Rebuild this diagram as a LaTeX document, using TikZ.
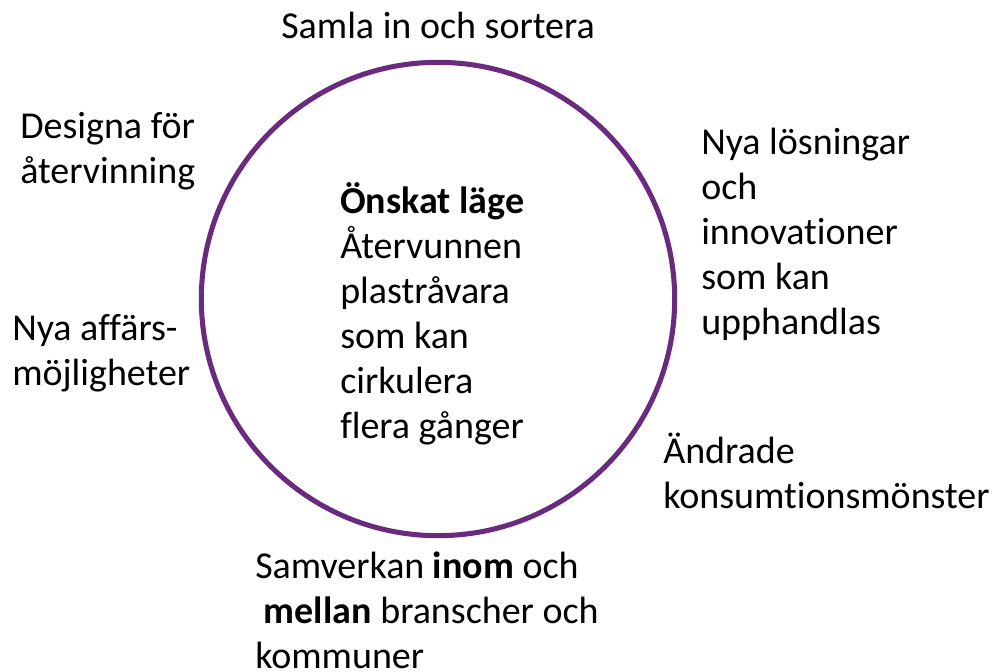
\documentclass[tikz,border=0pt]{standalone}
\usepackage{fontspec}
\setmainfont{Carlito}[Ligatures=NoCommon]
\usepackage{xcolor}
\usepackage{tikz}
\usetikzlibrary{positioning}
\definecolor{RingPurple}{HTML}{6A2A7E}
\definecolor{TextDark}{HTML}{000000}

\begin{document}
\begin{tikzpicture}[x=0.75pt,y=-0.75pt,
          every node/.style={font=\fontsize{28.5}{33.75}\selectfont, text=TextDark,
            inner sep=0pt, align=left, anchor=base west},
          ring/.style={circle, draw=RingPurple, line width=3.8pt,
            minimum size=355pt, anchor=center}]
        \useasboundingbox (0,0) rectangle (994,671);
        \node[ring] (mal) at (438,299) {};
        % multi-line nodes sit on their last baseline
        \node (mitt) at (340,438)
        {\textbf{Önskat läge}\\Återvunnen\\plastråvara\\som kan\\cirkulera\\flera gånger};
        \node (samla) at (281,38) {Samla in och sortera};
        \node (design) at (20,183) {Designa för\\återvinning};
        \node (affar) at (12,385) {Nya affärs-\\möjligheter};
        \node (losn) at (701,334) {Nya lösningar\\och\\innovationer\\som kan\\upphandlas};
        \node (konsum) at (663,508) {Ändrade\\konsumtionsmönster};
        \node (samverk) at (255,668)
        {Samverkan \textbf{inom} och\\\ \textbf{mellan} branscher och\\kommuner};
      \end{tikzpicture}
\end{document}
